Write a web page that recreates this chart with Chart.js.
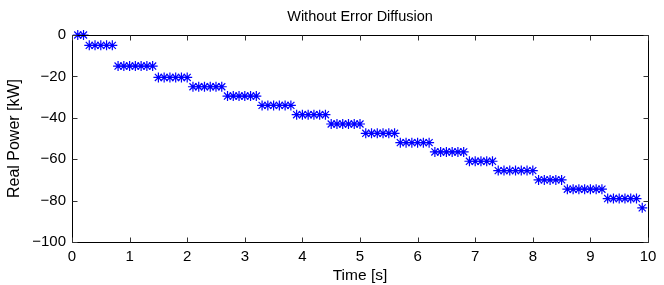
<!DOCTYPE html>
<html>
<head>
<meta charset="utf-8">
<script src="https://cdn.jsdelivr.net/npm/chart.js@4/dist/chart.umd.min.js"></script>
<style>
html,body{margin:0;padding:0;background:#fff;}
#wrap{width:664px;height:285px;position:relative;}
</style>
</head>
<body>
<div id="wrap"><canvas id="c" width="664" height="285"></canvas></div>
<script>
const chartTitle = "Without Error Diffusion";
const xTitle = "Time [s]";
const yTitle = "Real Power [kW]";
const xTicks = [0,1,2,3,4,5,6,7,8,9,10];
const yTicks = [0,-20,-40,-60,-80,-100];

const timeS = [
  0.1,0.2,0.3,0.4,0.5,0.6,0.7,0.8,0.9,1.0,
  1.1,1.2,1.3,1.4,1.5,1.6,1.7,1.8,1.9,2.0,
  2.1,2.2,2.3,2.4,2.5,2.6,2.7,2.8,2.9,3.0,
  3.1,3.2,3.3,3.4,3.5,3.6,3.7,3.8,3.9,4.0,
  4.1,4.2,4.3,4.4,4.5,4.6,4.7,4.8,4.9,5.0,
  5.1,5.2,5.3,5.4,5.5,5.6,5.7,5.8,5.9,6.0,
  6.1,6.2,6.3,6.4,6.5,6.6,6.7,6.8,6.9,7.0,
  7.1,7.2,7.3,7.4,7.5,7.6,7.7,7.8,7.9,8.0,
  8.1,8.2,8.3,8.4,8.5,8.6,8.7,8.8,8.9,9.0,
  9.1,9.2,9.3,9.4,9.5,9.6,9.7,9.8,9.9
];
const powerKW = [
  0,0,-5,-5,-5,-5,-5,-15,-15,-15,
  -15,-15,-15,-15,-20.5,-20.5,-20.5,-20.5,-20.5,-20.5,
  -25,-25,-25,-25,-25,-25,-29.5,-29.5,-29.5,-29.5,
  -29.5,-29.5,-34,-34,-34,-34,-34,-34,-38.5,-38.5,
  -38.5,-38.5,-38.5,-38.5,-43,-43,-43,-43,-43,-43,
  -47.5,-47.5,-47.5,-47.5,-47.5,-47.5,-52,-52,-52,-52,
  -52,-52,-56.5,-56.5,-56.5,-56.5,-56.5,-56.5,-61,-61,
  -61,-61,-61,-65.5,-65.5,-65.5,-65.5,-65.5,-65.5,-65.5,
  -70,-70,-70,-70,-70,-74.5,-74.5,-74.5,-74.5,-74.5,
  -74.5,-74.5,-79,-79,-79,-79,-79,-79,-83.5
];

const points = timeS.map((t,i)=>({x:t,y:powerKW[i]}));

const boxPlugin = {
  id:'boxTicks',
  afterDraw(chart){
    const {ctx, chartArea:a, scales} = chart;
    ctx.save();
    ctx.strokeStyle = '#000';
    ctx.lineWidth = 1;
    const L = Math.round(a.left)+0.5, R = Math.round(a.right)+0.5;
    const T = Math.round(a.top)+0.5, B = Math.round(a.bottom)+0.5;
    ctx.beginPath();
    ctx.rect(L, T, R-L, B-T);
    ctx.stroke();
    const tl = 5;
    ctx.strokeStyle = '#333';
    ctx.beginPath();
    xTicks.forEach(v=>{
      const px = Math.round(scales.x.getPixelForValue(v))+0.5;
      ctx.moveTo(px,B); ctx.lineTo(px,B-tl);
      ctx.moveTo(px,T); ctx.lineTo(px,T+tl);
    });
    yTicks.forEach(v=>{
      const py = Math.round(scales.y.getPixelForValue(v))+0.5;
      ctx.moveTo(L,py); ctx.lineTo(L+tl,py);
      ctx.moveTo(R,py); ctx.lineTo(R-tl,py);
    });
    ctx.stroke();
    ctx.restore();
  }
};

const font = "'Liberation Sans', Arial, Helvetica, sans-serif";
const fmt = v => String(v).replace('-', '\u2212');

new Chart(document.getElementById('c'), {
  type:'scatter',
  data:{datasets:[{
    data:points,
    pointStyle:'star',
    pointRadius:5,
    pointHoverRadius:5,
    borderColor:'#0000ff',
    backgroundColor:'#0000ff',
    pointBorderWidth:1.2,
    showLine:false,
    clip:false
  }]},
  options:{
    responsive:false,
    animation:false,
    events:[],
    layout:{padding:{left:0,right:16,top:0,bottom:0}},
    plugins:{
      legend:{display:false},
      tooltip:{enabled:false},
      title:{
        display:true,
        fullSize:false,
        text:chartTitle,
        color:'#000',
        font:{family:font,size:14.5,weight:'normal',lineHeight:1.2},
        padding:{top:8,bottom:9.6}
      }
    },
    scales:{
      x:{
        type:'linear',
        min:0,max:10,
        afterBuildTicks(s){ s.ticks = xTicks.map(v=>({value:v})); },
        afterFit(s){ s.height = 43; },
        grid:{display:false,drawTicks:false},
        border:{display:false},
        ticks:{color:'#000',font:{family:font,size:15},padding:6,maxRotation:0,autoSkip:false,callback:fmt},
        title:{display:true,text:xTitle,color:'#000',font:{family:font,size:15.5},padding:{top:0,bottom:0}}
      },
      y:{
        type:'linear',
        min:-100,max:0,
        afterBuildTicks(s){ s.ticks = yTicks.map(v=>({value:v})); },
        afterFit(s){ s.width = 72; },
        grid:{display:false,drawTicks:false},
        border:{display:false},
        ticks:{color:'#000',font:{family:font,size:15},padding:6,autoSkip:false,callback:fmt},
        title:{display:true,text:yTitle,color:'#000',font:{family:font,size:16},padding:{top:5,bottom:0}}
      }
    }
  },
  plugins:[boxPlugin]
});
</script>
</body>
</html>
